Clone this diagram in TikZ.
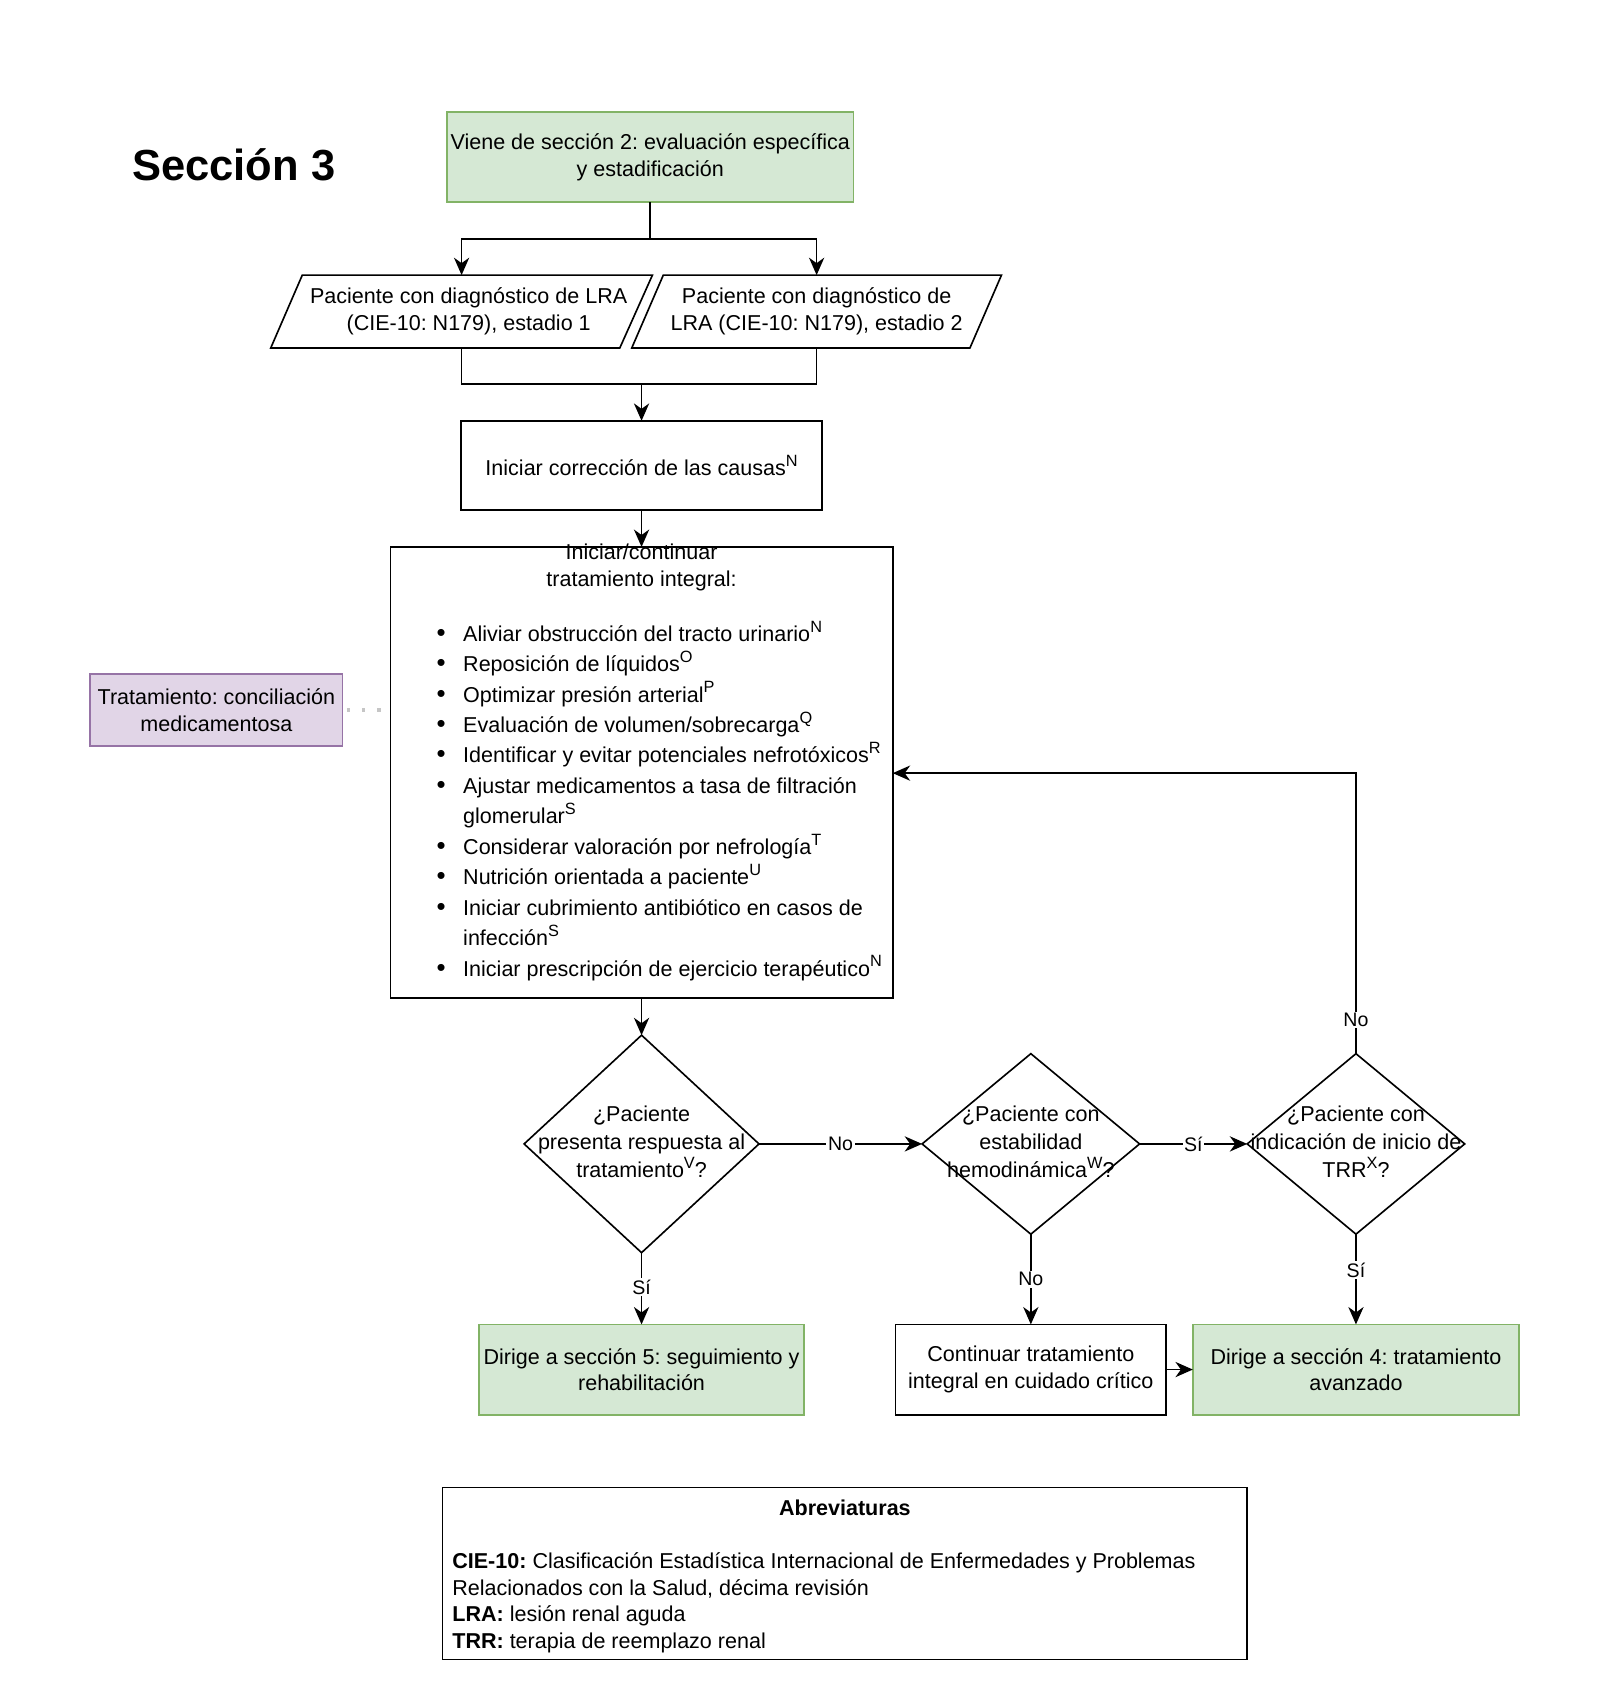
\documentclass[tikz,border=0pt]{standalone}
\usepackage{fontspec}
\setmainfont{Liberation Sans}
\usetikzlibrary{arrows.meta,shapes.geometric}
\definecolor{gfill}{HTML}{D5E8D4}
\definecolor{gdraw}{HTML}{82B366}
\definecolor{pfill}{HTML}{E1D5E7}
\definecolor{pdraw}{HTML}{9673A6}
\frenchspacing
\newcommand\mainfnt{\fontsize{19.8}{24.5}\selectfont}
\newcommand\lblfnt{\fontsize{18}{21}\selectfont}
\newcommand\bul{\makebox[25pt][l]{\hspace{0.5pt}\scalebox{1.2}{\textbullet}}}
\newcommand\sups[1]{\raisebox{0.42em}{\fontsize{15}{15}\selectfont #1}}
\begin{document}
\begin{tikzpicture}[x=1pt,y=-1pt,
  every node/.style={inner sep=0pt, outer sep=0pt},
  box/.style={draw=black, line width=1.5pt, font=\mainfnt, align=center},
  gbox/.style={box, draw=gdraw, fill=gfill},
  pbox/.style={box, draw=pdraw, fill=pfill},
  dia/.style={draw=black, line width=1.5pt, diamond},
  txt/.style={font=\mainfnt, align=center},
  dtxt/.style={font=\fontsize{19.8}{26}\selectfont, align=center},
  lbl/.style={font=\lblfnt, fill=white, inner sep=1.5pt},
  arr/.style={line width=1.5pt, -{Stealth[length=16pt,width=14pt,inset=5pt]}},
  ln/.style={line width=1.5pt},
]
\useasboundingbox (0,0) rectangle (1472,1568);

\node[font=\fontsize{40}{48}\selectfont\bfseries] (title) at (215,152) {Sección 3};

\node[gbox, minimum width=374, minimum height=83] (start) at (598,144.5) {Viene de sección 2: evaluación específica\\y estadificación};

% parallelograms
\draw[ln] (278,253) -- (600,253) -- (570,320) -- (249,320) -- cycle;
\node[minimum width=292, minimum height=67] (p1) at (424.5,286.5) {};
\node[txt] (p1t) at (431,286.5) {Paciente con diagnóstico de LRA\\(CIE-10: N179), estadio 1};
\draw[ln] (610,253) -- (921,253) -- (892,320) -- (581,320) -- cycle;
\node[minimum width=282, minimum height=67] (p2) at (751,286.5) {};
\node[txt] (p2t) at (751,286.5) {Paciente con diagnóstico de\\LRA (CIE-10: N179), estadio 2};

\node[box, minimum width=332, minimum height=82] (corr) at (590,428) {Iniciar corrección de las causas\sups{N}};

\node[box, minimum width=462, minimum height=415] (care) at (590,710.5) {};
\node[txt] (caret) at (590,522) {Iniciar/continuar\\tratamiento integral:};
\node[anchor=north west, font=\fontsize{19.8}{28}\selectfont] (carel) at (401,570) {%
\begin{tabular}{@{}l@{}l@{}}
\bul & Aliviar obstrucción del tracto urinario\sups{N}\\
\bul & Reposición de líquidos\sups{O}\\
\bul & Optimizar presión arterial\sups{P}\\
\bul & Evaluación de volumen/sobrecarga\sups{Q}\\
\bul & Identificar y evitar potenciales nefrotóxicos\sups{R}\\
\bul & Ajustar medicamentos a tasa de filtración\\
     & glomerular\sups{S}\\
\bul & Considerar valoración por nefrología\sups{T}\\
\bul & Nutrición orientada a paciente\sups{U}\\
\bul & Iniciar cubrimiento antibiótico en casos de\\
     & infección\sups{S}\\
\bul & Iniciar prescripción de ejercicio terapéutico\sups{N}
\end{tabular}};

\node[pbox, minimum width=232, minimum height=66] (recon) at (199,653) {Tratamiento: conciliación\\medicamentosa};

% diamonds
\node[dia, minimum width=216, minimum height=200] (d1) at (590,1052) {};
\node[dtxt] (d1t) at (590,1050) {¿Paciente\\presenta respuesta al\\tratamiento\sups{V}?};
\node[dia, minimum width=200, minimum height=166] (d2) at (948,1052) {};
\node[dtxt] (d2t) at (948,1050) {¿Paciente con\\estabilidad\\hemodinámica\sups{W}?};
\node[dia, minimum width=200, minimum height=166] (d3) at (1247,1052) {};
\node[dtxt] (d3t) at (1247,1050) {¿Paciente con\\indicación de inicio de\\TRR\sups{X}?};

% bottom boxes
\node[gbox, minimum width=299, minimum height=83] (g5) at (590,1259.5) {Dirige a sección 5: seguimiento y\\rehabilitación};
\node[box, minimum width=249, minimum height=83] (cont) at (948,1259.5) {Continuar tratamiento\\integral en cuidado crítico};
\node[gbox, minimum width=300, minimum height=83] (g4) at (1247,1259.5) {Dirige a sección 4: tratamiento\\avanzado};

% abbreviations
\node[box, minimum width=740, minimum height=158] (abbr) at (777,1447) {};
\node[font=\mainfnt\bfseries] (abbrt) at (777,1387) {Abreviaturas};
\node[anchor=north west, font=\mainfnt, align=left] (abbrb) at (416,1428) {\textbf{CIE-10:} Clasificación Estadística Internacional de Enfermedades y Problemas\\Relacionados con la Salud, décima revisión\\\textbf{LRA:} lesión renal aguda\\\textbf{TRR:} terapia de reemplazo renal};

% connectors
\coordinate (split) at (598,220);
\draw[ln] (start.south) -- (split);
\draw[arr] (split) -| (p1.north);
\draw[arr] (split) -| (p2.north);
\coordinate (merge) at (590,353);
\draw[ln] (p1.south) |- (merge) -| (p2.south);
\draw[arr] (merge) -- (corr.north);
\draw[arr] (corr.south) -- (care.north);
\draw[line width=3pt, color=gray!45, dash pattern=on 3pt off 11pt] (recon.east) ++(4,0) -- (recon.east -| care.west);
\draw[arr] (care.south) -- (d1.north);
\draw[arr] (d1.east) -- (d2.west) node[lbl, pos=0.5] (lno1) {No};
\draw[arr] (d2.east) -- (d3.west) node[lbl, pos=0.5] (lsi1) {Sí};
\draw[arr] (d1.south) -- (g5.north) node[lbl, pos=0.48] (lsi2) {Sí};
\draw[arr] (d2.south) -- (cont.north) node[lbl, pos=0.5] (lno2) {No};
\draw[arr] (d3.south) -- (g4.north) node[lbl, pos=0.4] (lsi3) {Sí};
\coordinate (fb) at (1247,711);
\draw[arr] (d3.north) -- (fb) -- (care.east |- fb);
\node[lbl] (lno3) at (1247,938) {No};
\draw[arr] (cont.east) -- (g4.west);
\end{tikzpicture}
\end{document}
